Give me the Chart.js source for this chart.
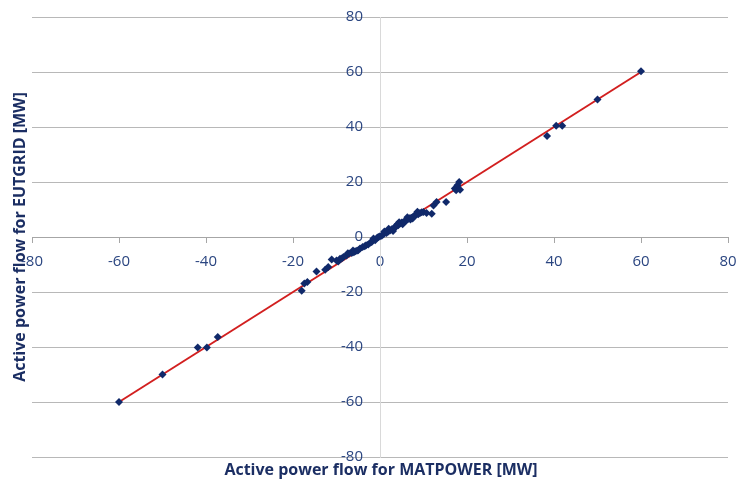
<!DOCTYPE html>
<html>
<head>
<meta charset="utf-8">
<script src="https://cdn.jsdelivr.net/npm/chart.js@4/dist/chart.umd.min.js"></script>
<style>
  html, body { margin: 0; padding: 0; background: #fff; }
  #wrap { width: 739px; height: 483px; position: relative; }
</style>
</head>
<body>
<div id="wrap"><canvas id="chart"></canvas></div>
<script>
// ── 数据 ──
const matpowerX = [
  -60, -50, -41.9, -39.8, -37.3,
  -18.0, -17.4, -16.7, -14.6, -12.6, -11.9, -11.1, -10.0, -9.6, -9.2, -8.8, -8.4,
  -7.7, -7.4, -7.1, -6.5, -6.2, -6.0, -5.7, -5.3, -5.0, -4.6, -4.0, -3.5, -3.2, -2.7, -2.2,
  -1.9, -1.5, -1.1, -0.6, -0.3, 0, 0.4, 0.8, 1.0, 1.5, 1.9, 2.0, 2.3, 2.7, 3.0, 3.1, 3.4, 3.8, 4.0,
  4.2, 4.4, 4.6, 5.0, 5.2, 5.4, 5.8, 6.1, 6.3, 6.5, 6.9, 7.0, 7.3, 7.5, 7.7, 8.0, 8.4, 8.6, 8.8, 9.2,
  9.6, 10.0, 10.7, 11.9, 12.3, 13.0, 15.2, 17.2, 17.5, 17.8, 18.2, 18.4,
  38.4, 40.5, 41.9, 50, 60
];
const eutgridY = [
  -60, -50, -40.2, -40.2, -36.4,
  -19.5, -16.9, -16.4, -12.5, -11.9, -10.9, -8.2, -8.5, -8.9, -7.9, -7.8, -7.3,
  -6.7, -5.9, -6.0, -5.8, -4.9, -5.5, -5.2, -5.0, -4.8, -4.2, -3.6, -3.4, -3.0, -2.7, -2.0,
  -1.8, -0.5, -1.2, -0.2, 0.0, 0.3, 0.5, 1.0, 2.0, 1.5, 2.0, 3.0, 2.4, 2.8, 2.2, 3.0, 3.6, 3.9, 4.6,
  4.3, 5.4, 4.9, 5.3, 4.6, 5.5, 5.7, 6.1, 7.2, 6.6, 6.9, 6.4, 7.0, 6.7, 7.5, 7.9, 8.2, 9.2, 8.3, 8.7,
  9.0, 9.1, 8.7, 8.5, 11.5, 12.7, 12.7, 17.6, 17.0, 18.8, 20.0, 17.2,
  36.7, 40.5, 40.5, 50, 60.3
];
// 趋势线两端
const trendX = [-60, 60];
const trendY = [-60, 60];

const axisTicks = [-80, -60, -40, -20, 0, 20, 40, 60, 80];
const xTitle = 'Active power flow for MATPOWER [MW]';
const yTitle = 'Active power flow for EUTGRID [MW]';

const TICK_COLOR  = '#2a4580';
const TITLE_COLOR = '#1b2e63';
const POINT_COLOR = '#10296a';
const TICK_FONT   = '15px "Open Sans", sans-serif';
const Y_LABEL_GAP = 17;

// 坐标轴居中时不让刻度标签挤占绘图区
const noScalePadding = s => {
  s.paddingLeft = 0; s.paddingRight = 0; s.paddingTop = 0; s.paddingBottom = 0;
};

// y 轴刻度标签 + 轴标题
const axisTextPlugin = {
  id: 'axisText',
  afterDraw(chart) {
    const { ctx, chartArea, scales } = chart;
    const axisX = scales.x.getPixelForValue(0);
    ctx.save();
    ctx.fillStyle = TICK_COLOR;
    ctx.font = TICK_FONT;
    ctx.textAlign = 'right';
    ctx.textBaseline = 'middle';
    scales.y.ticks.forEach(t => {
      ctx.fillText(String(t.value), axisX - Y_LABEL_GAP, scales.y.getPixelForValue(t.value));
    });

    ctx.fillStyle = TITLE_COLOR;
    ctx.font = 'bold 16px "Open Sans", sans-serif';
    ctx.textAlign = 'center';
    ctx.fillText(xTitle, 381, 470);
    ctx.translate(20, (chartArea.top + chartArea.bottom) / 2);
    ctx.rotate(-Math.PI / 2);
    ctx.fillText(yTitle, 0, 0);
    ctx.restore();
  }
};

new Chart(document.getElementById('chart'), {
  type: 'scatter',
  data: {
    datasets: [
      {
        label: 'EUTGRID',
        data: matpowerX.map((x, i) => ({ x, y: eutgridY[i] })),
        backgroundColor: POINT_COLOR,
        borderColor: POINT_COLOR,
        pointStyle: 'rectRot',
        pointRadius: 4,
        borderWidth: 0,
        order: 1,
      },
      {
        label: 'trend',
        type: 'line',
        data: trendX.map((x, i) => ({ x, y: trendY[i] })),
        borderColor: '#d21f1f',
        borderWidth: 2,
        pointRadius: 0,
        fill: false,
        order: 2,
      },
    ],
  },
  options: {
    responsive: true,
    maintainAspectRatio: false,
    animation: false,
    layout: { padding: { left: 32, right: 11, top: 17, bottom: 26 } },
    plugins: { legend: { display: false }, tooltip: { enabled: false } },
    scales: {
      x: {
        type: 'linear',
        min: -80, max: 80,
        position: { y: 0 },
        afterBuildTicks: s => { s.ticks = axisTicks.map(v => ({ value: v })); },
        afterFit: noScalePadding,
        ticks: { color: TICK_COLOR, font: { family: '"Open Sans", sans-serif', size: 15 }, padding: 11, maxRotation: 0, autoSkip: false },
        grid: { drawOnChartArea: false, drawTicks: true, tickLength: 5, color: '#a6a6a6' },
        border: { display: true, color: '#a6a6a6' },
      },
      y: {
        type: 'linear',
        min: -80, max: 80,
        position: { x: 0 },
        afterBuildTicks: s => { s.ticks = axisTicks.map(v => ({ value: v })); },
        afterFit: noScalePadding,
        ticks: { display: false },
        grid: { color: '#b8b8b8', drawTicks: false },
        border: { display: true, color: '#d9d9d9' },
      },
    },
  },
  plugins: [axisTextPlugin],
});
</script>
</body>
</html>
